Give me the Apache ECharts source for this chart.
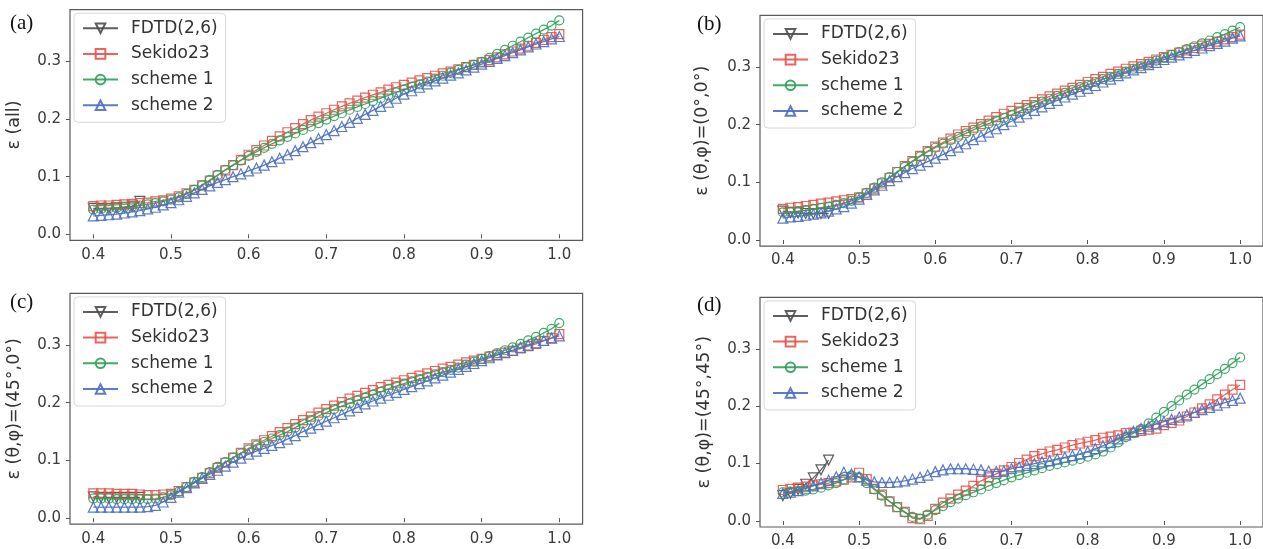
<!DOCTYPE html>
<html><head><meta charset="utf-8">
<script src="https://cdn.jsdelivr.net/npm/echarts@6/dist/echarts.min.js"></script>
<style>html,body{margin:0;padding:0;background:#fff;}#c{width:1263px;height:549px;}</style>
</head><body><div id="c"></div>
<script>
// ---------- data ----------
const xValues = [0.40,0.41,0.42,0.43,0.44,0.45,0.46,0.47,0.48,0.49,
  0.50,0.51,0.52,0.53,0.54,0.55,0.56,0.57,0.58,0.59,
  0.60,0.61,0.62,0.63,0.64,0.65,0.66,0.67,0.68,0.69,
  0.70,0.71,0.72,0.73,0.74,0.75,0.76,0.77,0.78,0.79,
  0.80,0.81,0.82,0.83,0.84,0.85,0.86,0.87,0.88,0.89,
  0.90,0.91,0.92,0.93,0.94,0.95,0.96,0.97,0.98,0.99,1.00];
const xTicks = [0.4,0.5,0.6,0.7,0.8,0.9,1.0];
const yTicks = [0.0,0.1,0.2,0.3];
const seriesNames = ['FDTD(2,6)','Sekido23','scheme 1','scheme 2'];
const panelLabels = ['(a)','(b)','(c)','(d)'];
const yTitles = ['ε (all)','ε (θ,φ)=(0°,0°)','ε (θ,φ)=(45°,0°)','ε (θ,φ)=(45°,45°)'];

// panel (a)
const fdtdA = [0.045,0.045,0.045,0.046,0.047,0.049,0.057];
const sekidoA = [0.049,0.050,0.050,0.051,0.052,0.053,0.054,0.055,0.057,0.059,
  0.062,0.066,0.071,0.077,0.085,0.093,0.102,0.111,0.120,0.129,
  0.138,0.146,0.154,0.162,0.170,0.177,0.184,0.191,0.198,0.204,
  0.210,0.216,0.222,0.227,0.232,0.237,0.242,0.246,0.251,0.255,
  0.259,0.263,0.267,0.271,0.275,0.279,0.282,0.286,0.290,0.294,
  0.298,0.302,0.307,0.312,0.317,0.322,0.327,0.332,0.337,0.342,0.347];
const scheme1A = [0.043,0.044,0.045,0.046,0.047,0.048,0.050,0.052,0.054,0.057,
  0.060,0.064,0.070,0.077,0.085,0.094,0.103,0.112,0.120,0.128,
  0.136,0.143,0.150,0.157,0.163,0.169,0.175,0.181,0.187,0.193,
  0.199,0.205,0.210,0.216,0.221,0.226,0.231,0.236,0.241,0.246,
  0.251,0.256,0.260,0.265,0.270,0.275,0.280,0.285,0.290,0.294,
  0.299,0.306,0.313,0.320,0.327,0.334,0.341,0.348,0.355,0.362,0.371];
const scheme2A = [0.032,0.033,0.034,0.035,0.037,0.039,0.041,0.044,0.047,0.051,
  0.055,0.060,0.066,0.072,0.078,0.084,0.090,0.095,0.100,0.105,
  0.110,0.115,0.120,0.126,0.132,0.138,0.145,0.152,0.159,0.166,
  0.173,0.180,0.187,0.194,0.201,0.208,0.215,0.222,0.229,0.236,
  0.243,0.249,0.255,0.261,0.266,0.271,0.276,0.280,0.285,0.290,
  0.295,0.300,0.305,0.310,0.315,0.320,0.325,0.330,0.334,0.339,0.343];

// panel (b)
const fdtdB = [0.050,0.048,0.047,0.046,0.046,0.046,0.046];
const sekidoB = [0.054,0.056,0.057,0.059,0.061,0.063,0.065,0.067,0.069,0.071,
  0.074,0.081,0.089,0.098,0.108,0.118,0.128,0.137,0.146,0.154,
  0.162,0.169,0.176,0.183,0.189,0.195,0.201,0.207,0.213,0.219,
  0.224,0.229,0.234,0.239,0.244,0.249,0.254,0.259,0.264,0.269,
  0.274,0.279,0.283,0.288,0.292,0.297,0.301,0.305,0.309,0.313,
  0.317,0.321,0.325,0.329,0.333,0.337,0.340,0.344,0.348,0.352,0.356];
const scheme1B = [0.048,0.049,0.050,0.052,0.054,0.056,0.058,0.061,0.064,0.068,
  0.074,0.082,0.091,0.100,0.109,0.118,0.127,0.136,0.145,0.153,
  0.160,0.167,0.173,0.179,0.185,0.191,0.197,0.202,0.207,0.212,
  0.217,0.223,0.229,0.234,0.240,0.245,0.250,0.255,0.260,0.265,
  0.269,0.274,0.279,0.283,0.288,0.292,0.297,0.301,0.306,0.311,
  0.316,0.321,0.326,0.331,0.336,0.341,0.346,0.352,0.357,0.363,0.369];
const scheme2B = [0.038,0.040,0.041,0.043,0.045,0.047,0.050,0.054,0.058,0.064,
  0.071,0.079,0.087,0.095,0.103,0.110,0.117,0.124,0.130,0.136,
  0.142,0.148,0.155,0.161,0.167,0.174,0.180,0.187,0.193,0.200,
  0.206,0.213,0.219,0.225,0.231,0.237,0.242,0.248,0.253,0.258,
  0.263,0.268,0.274,0.279,0.285,0.290,0.295,0.299,0.304,0.308,
  0.313,0.317,0.321,0.325,0.329,0.333,0.337,0.341,0.345,0.350,0.354];

// panel (c)
const fdtdC = [0.037,0.036,0.036,0.036,0.036,0.036,0.036];
const sekidoC = [0.043,0.043,0.043,0.042,0.042,0.042,0.041,0.040,0.040,0.041,
  0.042,0.047,0.054,0.062,0.070,0.078,0.087,0.096,0.105,0.113,
  0.121,0.128,0.135,0.142,0.149,0.156,0.163,0.170,0.176,0.183,
  0.189,0.195,0.201,0.207,0.212,0.217,0.222,0.227,0.231,0.235,
  0.239,0.243,0.247,0.251,0.255,0.259,0.262,0.266,0.270,0.273,
  0.276,0.280,0.283,0.287,0.290,0.294,0.298,0.302,0.307,0.312,0.319];
const scheme1C = [0.034,0.034,0.034,0.033,0.033,0.033,0.033,0.033,0.034,0.036,
  0.040,0.046,0.054,0.063,0.071,0.080,0.089,0.097,0.105,0.112,
  0.119,0.126,0.132,0.138,0.144,0.150,0.157,0.164,0.170,0.177,
  0.183,0.189,0.194,0.199,0.204,0.209,0.214,0.219,0.224,0.229,
  0.233,0.237,0.241,0.245,0.249,0.253,0.257,0.261,0.266,0.271,
  0.276,0.281,0.286,0.291,0.296,0.302,0.308,0.314,0.321,0.328,0.338];
const scheme2C = [0.019,0.019,0.019,0.019,0.019,0.019,0.019,0.020,0.022,0.028,
  0.036,0.045,0.053,0.061,0.069,0.076,0.083,0.090,0.097,0.104,
  0.111,0.116,0.121,0.126,0.131,0.137,0.143,0.150,0.156,0.162,
  0.168,0.174,0.180,0.186,0.192,0.198,0.203,0.208,0.213,0.218,
  0.223,0.228,0.233,0.238,0.243,0.248,0.253,0.258,0.263,0.268,
  0.273,0.278,0.283,0.287,0.291,0.296,0.300,0.304,0.308,0.312,0.316];

// panel (d)
const fdtdD = [0.044,0.048,0.055,0.064,0.075,0.089,0.106];
const sekidoD = [0.054,0.056,0.058,0.060,0.062,0.064,0.066,0.069,0.072,0.076,
  0.084,0.073,0.056,0.046,0.034,0.024,0.016,0.005,0.003,0.009,
  0.021,0.032,0.039,0.046,0.053,0.061,0.070,0.076,0.082,0.088,
  0.094,0.101,0.107,0.113,0.117,0.121,0.124,0.128,0.132,0.135,
  0.138,0.141,0.145,0.147,0.149,0.153,0.154,0.157,0.159,0.161,
  0.167,0.171,0.175,0.182,0.189,0.196,0.203,0.212,0.220,0.229,0.237];
const scheme1D = [0.050,0.051,0.052,0.053,0.055,0.058,0.062,0.066,0.072,0.079,
  0.076,0.066,0.055,0.044,0.034,0.024,0.015,0.007,0.004,0.011,
  0.019,0.026,0.033,0.039,0.045,0.050,0.055,0.061,0.066,0.071,
  0.076,0.080,0.084,0.088,0.092,0.096,0.099,0.102,0.105,0.108,
  0.112,0.116,0.121,0.128,0.137,0.146,0.153,0.160,0.170,0.180,
  0.190,0.200,0.210,0.220,0.229,0.238,0.247,0.256,0.265,0.275,0.285];
const scheme2D = [0.048,0.050,0.053,0.057,0.061,0.066,0.071,0.077,0.085,0.082,
  0.077,0.071,0.068,0.067,0.067,0.068,0.070,0.073,0.076,0.080,
  0.086,0.089,0.091,0.091,0.091,0.090,0.089,0.087,0.086,0.087,
  0.091,0.094,0.097,0.100,0.103,0.105,0.108,0.111,0.114,0.117,
  0.121,0.126,0.131,0.137,0.143,0.150,0.156,0.161,0.165,0.169,
  0.173,0.177,0.181,0.185,0.189,0.194,0.198,0.202,0.206,0.210,0.214];

const panelData = [
  [fdtdA, sekidoA, scheme1A, scheme2A],
  [fdtdB, sekidoB, scheme1B, scheme2B],
  [fdtdC, sekidoC, scheme1C, scheme2C],
  [fdtdD, sekidoD, scheme1D, scheme2D]
];

// ---------- layout & style ----------
const FONT = '"DejaVu Sans", sans-serif';
const layout = [
  {left:70,  top:9.7,   width:512.6, height:230.7, nameGap:47, lab:[10,13]},
  {left:760, top:15.4,  width:510.4, height:230.7, nameGap:49, lab:[697,14]},
  {left:70,  top:293.4, width:512.6, height:230.8, nameGap:47, lab:[10,292]},
  {left:760, top:297.4, width:510.4, height:230.8, nameGap:47, lab:[697,295]}
];
const styles = [
  {symbol:'triangle', rotate:180, color:'#4d4d4d', size:10},
  {symbol:'rect', rotate:0, color:'#e5534b', size:9},
  {symbol:'circle', rotate:0, color:'#2ca05a', size:9},
  {symbol:'triangle', rotate:0, color:'#4a6fc0', size:10}
];

const grids = [], xAxes = [], yAxes = [], series = [], legends = [], graphics = [];
layout.forEach((L, p) => {
  grids.push({left:L.left, top:L.top, width:L.width, height:L.height, show:true,
    borderColor:'#5a5a5a', borderWidth:1.2, backgroundColor:'rgba(0,0,0,0)'});
  xAxes.push({type:'value', gridIndex:p, min:0.37, max:1.03,
    axisLine:{show:false}, splitLine:{show:false},
    axisTick:{show:true, inside:false, length:4, customValues:xTicks, lineStyle:{color:'#555', width:1}},
    axisLabel:{customValues:xTicks, margin:7, fontSize:15, color:'#3a3a3a', fontFamily:FONT,
      formatter: v => v.toFixed(1)}});
  yAxes.push({type:'value', gridIndex:p, min:-0.0105, max:0.3895,
    name:yTitles[p], nameLocation:'middle', nameGap:L.nameGap, nameRotate:90,
    nameTextStyle:{fontSize:17.5, color:'#333', fontFamily:FONT},
    axisLine:{show:false}, splitLine:{show:false},
    axisTick:{show:true, inside:false, length:4, customValues:yTicks, lineStyle:{color:'#555', width:1}},
    axisLabel:{customValues:yTicks, margin:9, fontSize:15, color:'#3a3a3a', fontFamily:FONT,
      formatter: v => v.toFixed(1)}});
  panelData[p].forEach((arr, s) => {
    const st = styles[s];
    series.push({type:'line', name:seriesNames[s], xAxisIndex:p, yAxisIndex:p,
      data: arr.map((v, i) => [xValues[i], v]),
      symbol:st.symbol, symbolRotate:st.rotate, symbolSize:st.size, showAllSymbol:true,
      color:st.color, lineStyle:{color:st.color, width:1.3, opacity:0.9},
      itemStyle:{color:'rgba(255,255,255,0)', borderColor:st.color, borderWidth:1.2, opacity:0.9},
      emphasis:{disabled:true}, silent:true, z:2+s, clip:true});
  });
  legends.push({data:seriesNames, orient:'vertical', left:L.left+4, top:L.top+3.5,
    padding:[5,8,7,8], itemGap:5.7, itemWidth:35, itemHeight:12,
    backgroundColor:'rgba(255,255,255,0.85)', borderColor:'#d8d8d8', borderWidth:1, borderRadius:4,
    textStyle:{fontSize:17, lineHeight:20, color:'#333', fontFamily:FONT, padding:[0,0,0,8]},
    selectedMode:false});
  graphics.push({type:'text', left:L.lab[0], top:L.lab[1],
    style:{text:panelLabels[p], font:'21px "Liberation Serif", serif', fill:'#111'}});
});

const chart = echarts.init(document.getElementById('c'), null, {renderer:'canvas'});
chart.setOption({animation:false, backgroundColor:'#fff',
  grid:grids, xAxis:xAxes, yAxis:yAxes, series:series, legend:legends, graphic:graphics});
</script></body></html>
